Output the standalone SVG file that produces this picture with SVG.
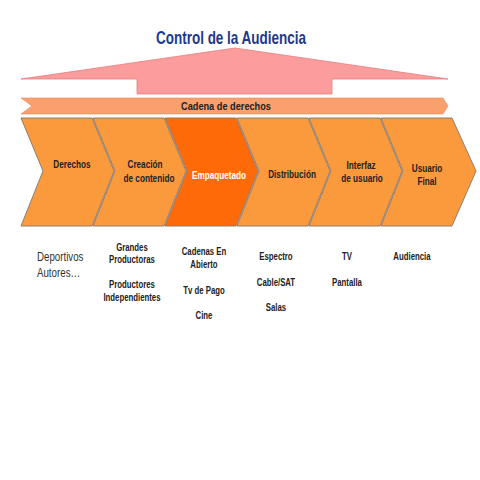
<svg xmlns="http://www.w3.org/2000/svg" width="480" height="480" viewBox="0 0 480 480">
<style>
.t{font-family:"Liberation Sans",Arial,sans-serif;font-weight:bold;text-anchor:middle}
.c{font-size:10.5px;fill:#222}
.s{font-size:10px;fill:#222}
.ch{fill:#fb9a3c;stroke:#8c7d73;stroke-width:1}
</style>
<rect width="480" height="480" fill="#fff"/>
<text class="t" transform="scale(0.77,1)" x="300" y="44" font-size="17.5" fill="#1c3a8c">Control de la Audiencia</text>
<polygon points="235,48 448,79 332,79 332,94 137,94 137,79 21,79" fill="#fc9c9c" stroke="#e57f80" stroke-width="0.8"/>
<polygon points="21,98 443,98 448,106 443,114 21,114 32,106" fill="#f9a06c" stroke="#e8875a" stroke-width="0.6"/>
<text class="t" transform="scale(0.8,1)" x="282.5" y="110" font-size="11.5" fill="#222">Cadena de derechos</text>
<g id="n1"><polygon class="ch" points="21,118 92,118 114,171 92,226 21,226 43,171"/><text class="t c" transform="scale(0.78,1)" x="92.3" y="168">Derechos</text></g>
<g id="n2"><polygon class="ch" points="93,118 164,118 186,171 164,226 93,226 115,171"/><text class="t c" transform="scale(0.78,1)" x="185.9" y="168">Creación</text><text class="t c" transform="scale(0.78,1)" x="191" y="182">de contenido</text></g>
<g id="n3"><polygon class="ch" style="fill:#ff6a08" points="165,118 236,118 258,171 236,226 165,226 187,171"/><text class="t c" transform="scale(0.78,1)" x="280.8" y="179" style="fill:#fff">Empaquetado</text></g>
<g id="n4"><polygon class="ch" points="237,118 308,118 330,171 308,226 237,226 259,171"/><text class="t c" transform="scale(0.78,1)" x="374.4" y="178">Distribución</text></g>
<g id="n5"><polygon class="ch" points="309,118 380,118 402,171 380,226 309,226 331,171"/><text class="t c" transform="scale(0.78,1)" x="462.8" y="169">Interfaz</text><text class="t c" transform="scale(0.78,1)" x="464.1" y="182">de usuario</text></g>
<g id="n6"><polygon class="ch" points="381,118 452,118 476,171 452,226 381,226 403,171"/><text class="t c" transform="scale(0.78,1)" x="547.4" y="172">Usuario</text><text class="t c" transform="scale(0.78,1)" x="547.4" y="185">Final</text></g>
<g font-family="'Liberation Sans',Arial,sans-serif" font-size="12.5" fill="#333" transform="scale(0.78,1)">
<text x="47.4" y="261">Deportivos</text><text x="47.4" y="277">Autores…</text>
</g>
<g transform="scale(0.78,1)">
<text class="t s" x="169.2" y="251">Grandes</text>
<text class="t s" x="169.2" y="263">Productoras</text>
<text class="t s" x="169.2" y="288">Productores</text>
<text class="t s" x="169.2" y="301">Independientes</text>
<text class="t s" x="261.5" y="255">Cadenas En</text>
<text class="t s" x="261.5" y="268">Abierto</text>
<text class="t s" x="261.5" y="294">Tv de Pago</text>
<text class="t s" x="261.5" y="319">Cine</text>
<text class="t s" x="353.8" y="260">Espectro</text>
<text class="t s" x="353.8" y="286">Cable/SAT</text>
<text class="t s" x="353.8" y="311">Salas</text>
<text class="t s" x="444.9" y="260">TV</text>
<text class="t s" x="444.9" y="286">Pantalla</text>
<text class="t s" x="528.2" y="260">Audiencia</text>
</g>
</svg>
